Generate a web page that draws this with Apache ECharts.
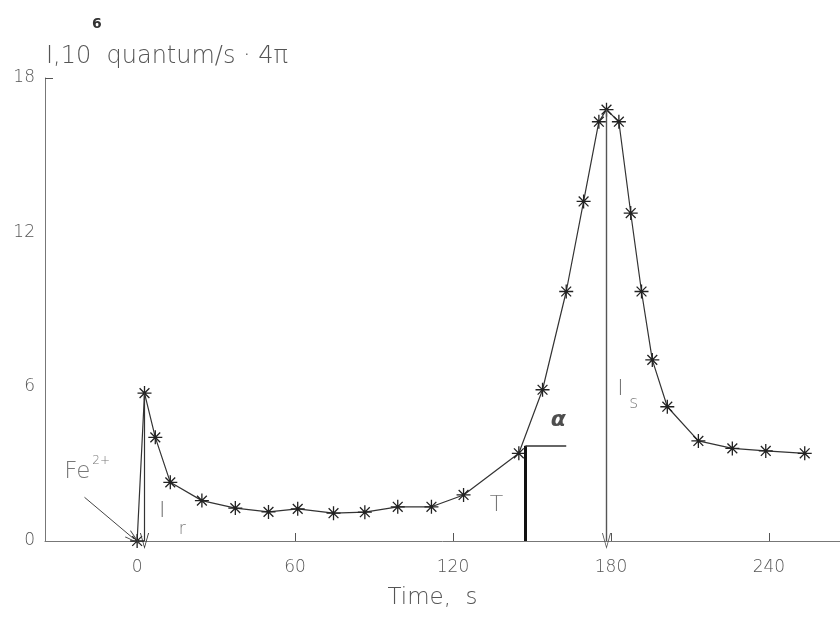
<!DOCTYPE html>
<html>
<head>
<meta charset="utf-8">
<script src="https://cdn.jsdelivr.net/npm/echarts@6/dist/echarts.min.js"></script>
<style>
  html, body { margin: 0; padding: 0; background: #fff; }
  #chart { width: 840px; height: 621px; }
</style>
</head>
<body>
<div id="chart"></div>
<script>
// measured intensity curve (time in s, intensity in 10^6 quantum/s·4π)
const timeS = [0, 2.8, 6.9, 12.6, 24.6, 37.3, 49.9, 61, 74.6, 86.5, 99, 111.8, 124,
               145, 154, 163, 169.6, 175.4, 178.3, 183, 187.5, 191.6, 195.7, 201.4,
               213.2, 226.1, 238.8, 253.6];
const intensity = [0, 5.75, 4.03, 2.28, 1.57, 1.28, 1.13, 1.25, 1.08, 1.12, 1.33, 1.33, 1.79,
                   3.41, 5.88, 9.7, 13.2, 16.3, 16.77, 16.3, 12.75, 9.7, 7.04, 5.22,
                   3.89, 3.6, 3.5, 3.41];
const xTicks = [0, 60, 120, 180, 240];
const yTicks = [0, 6, 12, 18];

// annotation anchors (data coordinates)
const irPeak = [2.8, 5.75];
const isPeak = [178.3, 16.77];
const tPoint = [147.5, 3.7];
const tEndX = 163;
const feFrom = [-20, 1.7];

const FONT = 'DejaVu Sans';
const INK = '#333';
const TXT = '#555';

const chart = echarts.init(document.getElementById('chart'));

const asterisk = 'path://M10 0 L10 20 M0 10 L20 10 M3 3 L17 17 M17 3 L3 17';
const vHead = 'path://M5 0 L10 12 L9 12 L5 2 L1 12 L0 12 Z';

function note(x, y, text, style) {
    return {
        value: [x, y],
        label: Object.assign({ show: true, position: 'inside', formatter: text,
            fontFamily: FONT, fontWeight: 200, color: TXT }, style)
    };
}

const notes = [
    note(-19, 2.7, '{a|Fe}{s|2+}', {
        rich: {
            a: { fontSize: 23, fontFamily: FONT, fontWeight: 200, color: TXT },
            s: { fontSize: 12, fontFamily: FONT, color: TXT, padding: [0, 0, 22, 2] }
        }
    }),
    note(9.5, 1.17, 'I', { fontSize: 22 }),
    note(17.1, 0.43, 'r', { fontSize: 17 }),
    note(136.5, 1.4, 'T', { fontSize: 22 }),
    note(160, 4.7, 'α', { fontSize: 22, fontWeight: 'bold', fontStyle: 'italic', color: '#222' }),
    note(183.6, 5.9, 'I', { fontSize: 22 }),
    note(188.6, 5.33, 's', { fontSize: 17 })
];

const option = {
    animation: false,
    title: [
        { text: '6', left: 87, top: 12,
          textStyle: { fontFamily: FONT, fontSize: 14, fontWeight: 'bold', color: '#333' } },
        { text: 'I,10  quantum/s · 4π', left: 41, top: 40,
          textStyle: { fontFamily: FONT, fontSize: 24, fontWeight: 200, color: '#555' } }
    ],
    grid: { left: 45, right: 0, top: 78, bottom: 80 },
    xAxis: {
        type: 'value',
        min: -35,
        max: 267,
        name: 'Time,  s',
        nameLocation: 'middle',
        nameGap: 46,
        nameTextStyle: { fontFamily: FONT, fontSize: 23, fontWeight: 200, color: TXT, padding: [0, 20, 0, 0] },
        axisLine: { onZero: false, lineStyle: { color: '#777', width: 1 } },
        axisTick: { show: true, inside: true, length: 8, customValues: xTicks, lineStyle: { color: '#555' } },
        axisLabel: { customValues: xTicks, margin: 18, fontFamily: FONT, fontWeight: 200, fontSize: 17, color: TXT },
        splitLine: { show: false }
    },
    yAxis: {
        type: 'value',
        min: 0,
        max: 18,
        interval: 6,
        axisLine: { show: true, onZero: false, lineStyle: { color: '#777', width: 1 } },
        axisTick: { show: true, inside: true, length: 8, customValues: [18], lineStyle: { color: '#555' } },
        axisLabel: { customValues: yTicks, margin: 10, fontFamily: FONT, fontWeight: 200, fontSize: 17, color: TXT },
        splitLine: { show: false }
    },
    series: [
        {
            type: 'line',
            data: timeS.map((t, i) => [t, intensity[i]]),
            symbol: asterisk,
            symbolSize: 14,
            itemStyle: { color: 'rgba(0,0,0,0)', borderColor: '#222', borderWidth: 1.3 },
            lineStyle: { color: INK, width: 1.2 },
            emphasis: { disabled: true },
            markLine: {
                silent: true,
                label: { show: false },
                symbolSize: [9, 16],
                lineStyle: { color: INK, width: 1.2, type: 'solid' },
                data: [
                    [{ coord: irPeak, symbol: 'none' }, { coord: [irPeak[0], 0], symbol: vHead }],
                    [{ coord: isPeak, symbol: 'none', lineStyle: { color: '#555', width: 1.4 } },
                     { coord: [isPeak[0], 0], symbol: vHead }],
                    [{ coord: [tPoint[0], 0], symbol: 'none', lineStyle: { color: '#111', width: 3 } },
                     { coord: tPoint, symbol: 'none' }],
                    [{ coord: tPoint, symbol: 'none', lineStyle: { color: '#333', width: 1.5 } },
                     { coord: [tEndX, tPoint[1]], symbol: 'none' }],
                    [{ coord: feFrom, symbol: 'none', lineStyle: { color: '#444', width: 1 } },
                     { coord: [-1.2, 0.08], symbol: vHead }]
                ]
            }
        },
        {
            type: 'scatter',
            symbolSize: 0,
            silent: true,
            data: notes
        }
    ]
};

chart.setOption(option);

window.addEventListener('resize', function() {
    chart.resize();
});
</script>
</body>
</html>
